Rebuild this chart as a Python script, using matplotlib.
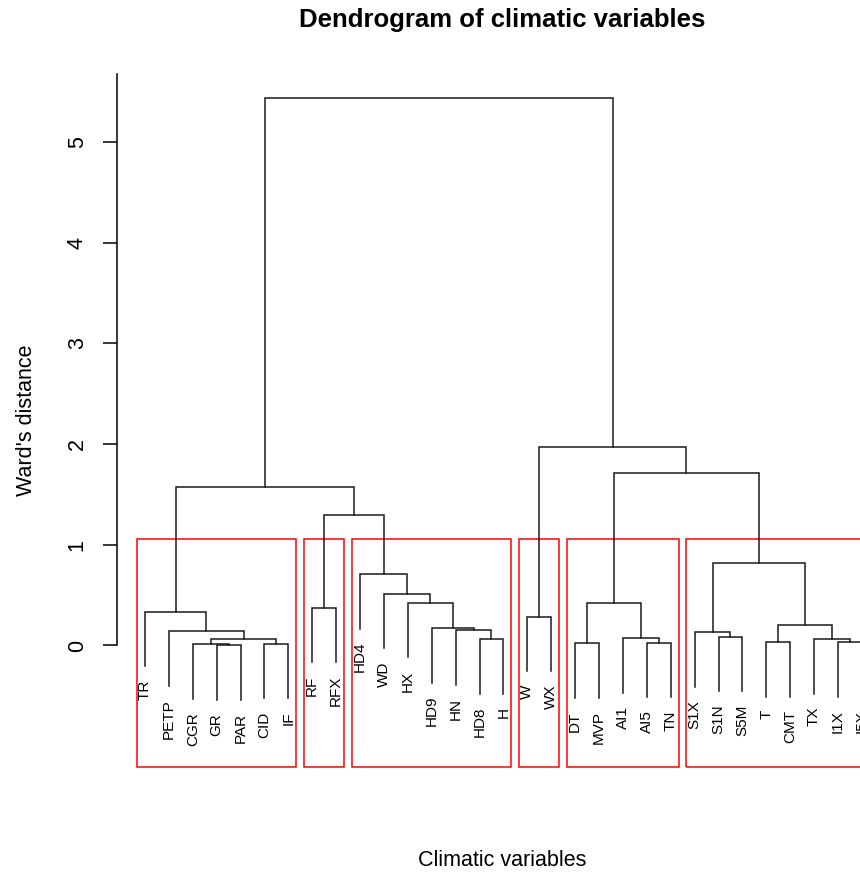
import matplotlib
matplotlib.use('Agg')
import matplotlib.pyplot as plt
from matplotlib.patches import Rectangle

plt.rcParams['font.family'] = ['Liberation Sans', 'DejaVu Sans']

# leaves in plotted order
labels = ['TR', 'PETP', 'CGR', 'GR', 'PAR', 'CID', 'IF', 'RF', 'RFX', 'HD4',
          'WD', 'HX', 'HD9', 'HN', 'HD8', 'H', 'W', 'WX', 'DT', 'MVP',
          'AI1', 'AI5', 'TN', 'S1X', 'S1N', 'S5M', 'T', 'CMT', 'TX', 'I1X', 'I5X']

# merges like R's hclust: negative = leaf number, positive = earlier merge
merge_a = [-4, -3, -6, 2, -2, -1, -8, -15, -14, -13, -12, -11, -10, 7, 6,
           -17, -19, -22, -21, 17, -25, -24, -27, -30, -29, 23, 22, 20, 16, 15]
merge_b = [-5, 1, -7, 3, 4, 5, -9, -16, 8, 9, 10, 11, 12, 13, 14,
           -18, -20, -23, 18, 19, -26, 21, -28, -31, 24, 25, 26, 27, 28, 29]
heights = [0.005, 0.012, 0.017, 0.06, 0.142, 0.335, 0.375, 0.066, 0.149, 0.172,
           0.425, 0.514, 0.709, 1.295, 1.578, 0.286, 0.02, 0.027, 0.073, 0.42,
           0.087, 0.133, 0.034, 0.034, 0.066, 0.199, 0.815, 1.717, 1.971, 5.434]

k = 6

fig = plt.figure(figsize=(8.6, 8.74), dpi=100)
ax = fig.add_axes([117/860, 107/874, 770/860, 693/874])
ymin, ymax = -1.207, 5.675
ax.set_xlim(-0.17, 32.05)
ax.set_ylim(ymin, ymax)

hang = 0.1 * max(heights)
centers = {}
leaves_of = {}
for i, (a, b, h) in enumerate(zip(merge_a, merge_b, heights), start=1):
    xs, ys, lv = [], [], []
    for c in (a, b):
        if c < 0:
            x = -c
            y = h - hang
            ax.text(x, y - 0.13, labels[-c - 1], rotation=90, ha='center',
                    va='top', fontsize=11)
            lv.append(-c)
        else:
            x = centers[c]
            y = heights[c - 1]
            lv.extend(leaves_of[c])
        xs.append(x)
        ys.append(y)
    ax.plot([xs[0], xs[0], xs[1], xs[1]], [ys[0], h, h, ys[1]],
            color='#1a1a1a', lw=1.1, solid_joinstyle='miter')
    centers[i] = (xs[0] + xs[1]) / 2
    leaves_of[i] = lv

# rect.hclust style boxes for k clusters
order = sorted(range(1, len(heights) + 1), key=lambda m: heights[m - 1], reverse=True)
top = set(order[:k - 1])
groups = []
for m in top:
    for c in (merge_a[m - 1], merge_b[m - 1]):
        if c < 0:
            groups.append([-c])
        elif c not in top:
            groups.append(leaves_of[c])
hs = sorted(heights, reverse=True)
box_top = (hs[k - 2] + hs[k - 1]) / 2
for g in groups:
    left = min(g) - 0.34
    right = max(g) + 0.33
    ax.add_patch(Rectangle((left, ymin), right - left, box_top - ymin, fill=False,
                           ec='red', lw=1.1, clip_on=False))

for s in ['top', 'right', 'bottom']:
    ax.spines[s].set_visible(False)
ax.spines['left'].set_bounds(0, ymax)
ax.spines['left'].set_linewidth(1.1)
ax.set_xticks([])
ax.set_yticks([0, 1, 2, 3, 4, 5])
ax.tick_params(axis='y', length=10, width=1.1, pad=11, labelsize=15.5)
for t in ax.get_yticklabels():
    t.set_rotation(90)
    t.set_va('center')

fig.text(502/860, 1 - 27/874, 'Dendrogram of climatic variables', ha='center',
         va='baseline', fontsize=18.5, fontweight='bold')
fig.text(502/860, 8/874, 'Climatic variables', ha='center', va='baseline',
         fontsize=15.5)
fig.text(37.5/860, 1 - 420/874, "Ward's distance", rotation=90, ha='right',
         va='center', fontsize=15.5)

plt.savefig('out.png', dpi=100)
